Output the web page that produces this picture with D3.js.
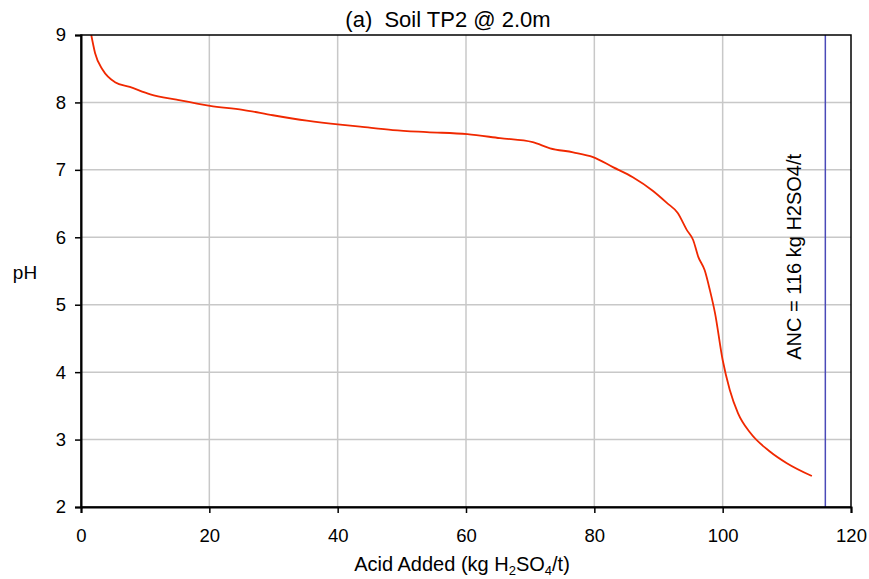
<!DOCTYPE html>
<html>
<head>
<meta charset="utf-8">
<script src="https://cdn.jsdelivr.net/npm/d3@7"></script>
<style>
  body { margin: 0; background: #fff; }
  text { font-family: "Liberation Sans", Arial, sans-serif; fill: #000; }
</style>
</head>
<body>
<div id="body"></div>
<script>
// titration curve
var acid = [1.6, 2.2, 3.4, 5.3, 7.6, 10.8, 14.9, 20.1, 25.2, 29.9, 35.2, 40.4, 43.5, 48.6, 53.9,
  60.2, 65.3, 70.4, 73.1, 76.7, 79.8, 82.9, 86.0, 89.1, 91.3, 93.0, 94.4, 95.4, 96.2, 97.2,
  98.0, 98.8, 100.0, 101.1, 102.4, 104.3, 107.4, 110.0, 113.9];
var ph = [9.0, 8.73, 8.48, 8.30, 8.23, 8.12, 8.04, 7.95, 7.89, 7.81, 7.73, 7.67, 7.64, 7.59, 7.56,
  7.53, 7.47, 7.41, 7.32, 7.26, 7.19, 7.04, 6.89, 6.69, 6.51, 6.36, 6.11, 5.96, 5.71, 5.51,
  5.22, 4.88, 4.18, 3.74, 3.39, 3.10, 2.82, 2.65, 2.46];
var xTicks = [0, 20, 40, 60, 80, 100, 120];
var yTicks = [2, 3, 4, 5, 6, 7, 8, 9];
var anc = 116;

var margin = {top: 35, right: 18, bottom: 72, left: 81},
  width = 869 - margin.left - margin.right,
  height = 579 - margin.top - margin.bottom;

var svg = d3.select("#body")
  .append("svg")
  .attr("width", 869)
  .attr("height", 579)
  .append("g")
  .attr("transform", "translate(" + margin.left + "," + margin.top + ")");

var x = d3.scaleLinear().domain([0, 120]).range([0, width]);
var y = d3.scaleLinear().domain([2, 9]).range([height, 0]);

// grid
svg.append("g").selectAll("line")
  .data(xTicks.slice(1, -1))
  .enter().append("line")
  .attr("x1", d => x(d)).attr("x2", d => x(d))
  .attr("y1", 0).attr("y2", height)
  .attr("stroke", "#c8c8c8").attr("stroke-width", 1.5);

svg.append("g").selectAll("line")
  .data(yTicks.slice(1, -1))
  .enter().append("line")
  .attr("x1", 0).attr("x2", width)
  .attr("y1", d => y(d)).attr("y2", d => y(d))
  .attr("stroke", "#c8c8c8").attr("stroke-width", 1.5);

// ANC line
svg.append("line")
  .attr("x1", x(anc)).attr("x2", x(anc))
  .attr("y1", 0).attr("y2", height)
  .attr("stroke", "#4a4ab8").attr("stroke-width", 1.5);

svg.append("text")
  .attr("transform", "translate(" + (x(anc) - 24) + "," + y(5.71) + ") rotate(-90)")
  .attr("text-anchor", "middle")
  .style("font-size", "20px")
  .text("ANC = " + anc + " kg H2SO4/t");

// curve
var pts = acid.map((a, i) => [a, ph[i]]);
svg.append("path")
  .datum(pts)
  .attr("fill", "none")
  .attr("stroke", "#f02800")
  .attr("stroke-width", 1.8)
  .attr("d", d3.line().x(d => x(d[0])).y(d => y(d[1])).curve(d3.curveMonotoneX));

// frame
svg.append("rect")
  .attr("width", width).attr("height", height)
  .attr("fill", "none").attr("stroke", "#000").attr("stroke-width", 1.5);

var bottomAxis = d3.axisBottom(x).tickValues(xTicks).tickSize(6).tickPadding(16);
var leftAxis = d3.axisLeft(y).tickValues(yTicks).tickFormat(d3.format("d")).tickSize(6).tickPadding(9);

var gx = svg.append("g")
  .attr("transform", "translate(0," + height + ")")
  .call(bottomAxis);
var gy = svg.append("g").call(leftAxis);

[gx, gy].forEach(function(g) {
  g.select(".domain").attr("stroke-width", 2);
  g.selectAll(".tick line").attr("stroke-width", 1.5);
  g.selectAll(".tick text")
    .style("font-size", "18.5px")
    .style("font-family", "'Liberation Sans', Arial, sans-serif");
});

// titles
svg.append("text")
  .attr("x", width / 2 - 18)
  .attr("y", -8)
  .attr("text-anchor", "middle")
  .style("font-size", "22px")
  .style("white-space", "pre")
  .text("(a)  Soil TP2 @ 2.0m");

svg.append("text")
  .attr("x", -56)
  .attr("y", height / 2 + 8)
  .attr("text-anchor", "middle")
  .style("font-size", "19px")
  .text("pH");

var xl = svg.append("text")
  .attr("x", width / 2 - 4)
  .attr("y", height + 64)
  .attr("text-anchor", "middle")
  .style("font-size", "20px");
xl.append("tspan").text("Acid Added (kg H");
xl.append("tspan").attr("dy", 4).style("font-size", "13px").text("2");
xl.append("tspan").attr("dy", -4).text("SO");
xl.append("tspan").attr("dy", 4).style("font-size", "13px").text("4");
xl.append("tspan").attr("dy", -4).text("/t)");
</script>
</body>
</html>
